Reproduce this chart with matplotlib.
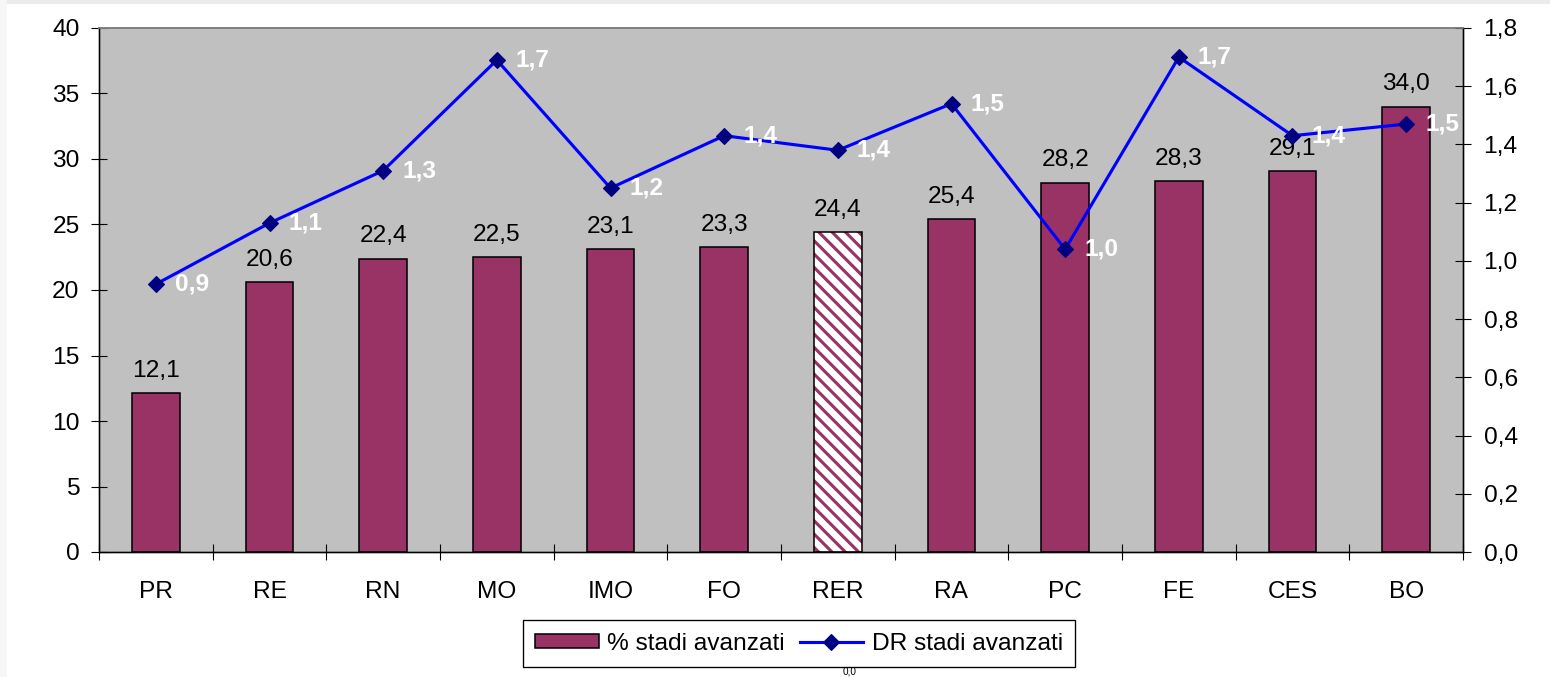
import numpy as np
import matplotlib.pyplot as plt
from matplotlib.patches import Rectangle
from matplotlib.ticker import FuncFormatter, FixedLocator

plt.rcParams['font.family'] = ['Liberation Sans', 'DejaVu Sans']
plt.rcParams['hatch.linewidth'] = 2.8

areas = ['PR', 'RE', 'RN', 'MO', 'IMO', 'FO', 'RER', 'RA', 'PC', 'FE', 'CES', 'BO']
pct_avanzati = [12.1, 20.6, 22.4, 22.5, 23.1, 23.3, 24.4, 25.4, 28.2, 28.3, 29.1, 34.0]
dr_avanzati = [0.92, 1.13, 1.31, 1.69, 1.25, 1.43, 1.38, 1.54, 1.04, 1.70, 1.43, 1.47]
dr_labels = ['0,9', '1,1', '1,3', '1,7', '1,2', '1,4', '1,4', '1,5', '1,0', '1,7', '1,4', '1,5']
highlight = 'RER'

maroon = '#993366'
fs = 22

DPI = 80
fig = plt.figure(figsize=(1550 / DPI, 677 / DPI), dpi=DPI)
fig.patch.set_facecolor('white')
# thin grey frame at top / left like the screenshot
fig.patches.append(Rectangle((0, 1 - 4 / 677), 1, 4 / 677, transform=fig.transFigure,
                             facecolor='#EBEBEB', edgecolor='none', zorder=0))
fig.patches.append(Rectangle((0, 0), 7 / 1550, 1, transform=fig.transFigure,
                             facecolor='#F7F7F7', edgecolor='none', zorder=0))

ax = fig.add_axes([99 / 1550, 1 - 552 / 677, (1463 - 99) / 1550, (552 - 28) / 677])
ax.set_facecolor('#C0C0C0')

x = np.arange(len(areas))
w = 0.42
for xi, name, v in zip(x, areas, pct_avanzati):
    if name == highlight:
        ax.bar(xi, v, w, color='white', edgecolor=maroon, hatch='\\\\', linewidth=0, zorder=2)
        ax.bar(xi, v, w, fill=False, edgecolor='black', linewidth=1.4, zorder=3)
    else:
        ax.bar(xi, v, w, color=maroon, edgecolor='black', linewidth=1.4, zorder=2)
    ax.annotate(f'{v:.1f}'.replace('.', ','), (xi, v), xytext=(0, 10), textcoords='offset points',
                ha='center', va='bottom', fontsize=fs, color='black', zorder=4)

ax.set_xlim(-0.5, len(areas) - 0.5)
ax.set_ylim(0, 40)
ax.set_yticks(np.arange(0, 41, 5))
ax.xaxis.set_major_locator(FixedLocator(np.arange(-0.5, len(areas), 1)))
ax.xaxis.set_major_formatter(FuncFormatter(lambda v, p: ''))
ax.xaxis.set_minor_locator(FixedLocator(x))
ax.set_xticklabels(areas, minor=True)
ax.tick_params(axis='x', which='major', direction='inout', length=15, width=1)
ax.tick_params(axis='x', which='minor', length=0, pad=26, labelsize=fs)
ax.tick_params(axis='y', direction='inout', length=15, width=1, pad=10, labelsize=fs)

ax2 = ax.twinx()
ax2.plot(x, dr_avanzati, color='#0000FF', linewidth=2.8, marker='D', markersize=10.5,
         markerfacecolor='#000080', markeredgecolor='#000080', zorder=5)
for xi, v, lab in zip(x, dr_avanzati, dr_labels):
    ax2.annotate(lab, (xi, v), xytext=(17, 0), textcoords='offset points',
                 ha='left', va='center', fontsize=fs, fontweight='bold', color='white', zorder=6)
ax2.set_ylim(0, 1.8)
ax2.set_yticks(np.arange(0, 1.81, 0.2))
ax2.yaxis.set_major_formatter(FuncFormatter(lambda v, p: f'{v:.1f}'.replace('.', ',')))
ax2.tick_params(axis='y', direction='inout', length=15, width=1, pad=11, labelsize=fs)

for a in (ax, ax2):
    a.spines['top'].set_color('#808080')
    a.spines['top'].set_linewidth(1.5)
    for s in ('left', 'right', 'bottom'):
        a.spines[s].set_color('black')
        a.spines[s].set_linewidth(1.2)

h1 = Rectangle((0, 0), 1, 1, facecolor=maroon, edgecolor='black', linewidth=1.4)
h2, = ax2.plot([], [], color='#0000FF', linewidth=2.8, marker='D', markersize=10.5,
               markerfacecolor='#000080', markeredgecolor='#000080')
leg = fig.legend([h1, h2], ['% stadi avanzati', 'DR stadi avanzati'], ncol=2,
                 loc='center', bbox_to_anchor=(799 / 1550, 1 - 643.5 / 677),
                 fontsize=fs, frameon=True, fancybox=False, framealpha=1,
                 edgecolor='black', handlelength=2.6, handleheight=0.5,
                 handletextpad=0.35, columnspacing=0.6, borderpad=0.5,
                 borderaxespad=0)
leg.get_frame().set_linewidth(1.2)

fig.text(850 / 1550, 1 / 677, '0,0', ha='center', va='bottom', fontsize=9)

fig.savefig('out.png', dpi=DPI, facecolor=fig.get_facecolor())
